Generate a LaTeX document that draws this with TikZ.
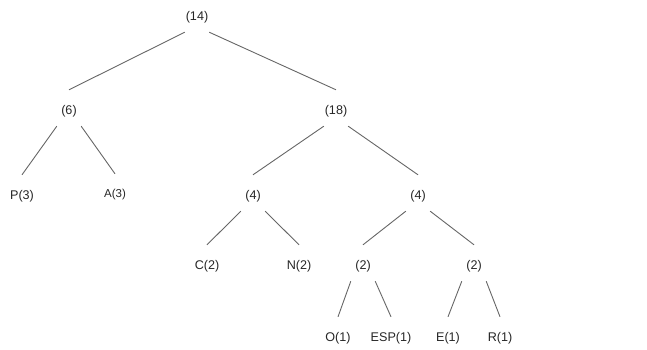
\documentclass[tikz,border=0pt]{standalone}
\usepackage{fontspec}
\setmainfont{Liberation Sans}
\usepackage{xcolor}
\usetikzlibrary{arrows.meta,positioning}

\begin{document}
\begin{tikzpicture}[
  x=1pt, y=-1pt,
  wt/.style={minimum width=24pt, minimum height=30pt, inner xsep=0pt, inner ysep=0pt,
             text=black!85, font=\fontsize{12.6}{14}\selectfont},
  small/.style={wt, font=\fontsize{11.5}{13}\selectfont},
  edge/.style={draw=black!60, line width=0.9pt}
]
\useasboundingbox (0,0) rectangle (647,350);

\node[wt] (n14) at (197,17) {(14)};
\node[wt] (n6)  at (69,111) {(6)};
\node[wt] (n18) at (336,111) {(18)};
\node[wt] (p3)  at (22,196) {P(3)};
\node[small] (a3) at (115,195) {A(3)};
\node[wt] (n4a) at (253,196) {(4)};
\node[wt] (n4b) at (418,196) {(4)};
\node[wt] (c2)  at (207,266) {C(2)};
\node[wt] (nn2) at (299,266) {N(2)};
\node[wt] (n2a) at (363,266) {(2)};
\node[wt] (n2b) at (474,266) {(2)};
\node[wt] (o1)  at (338,338) {O(1)};
\node[wt] (esp1) at (391,338) {ESP(1)};
\node[wt] (e1)  at (448,338) {E(1)};
\node[wt] (r1)  at (500,338) {R(1)};

\draw[edge] (n14.south west) -- ([yshift=6pt]n6.north);
\draw[edge] (n14.south east) -- ([yshift=6pt]n18.north);
\draw[edge] (n6.south west) -- ([yshift=6pt]p3.north);
\draw[edge] (n6.south east) -- ([yshift=6pt]a3.north);
\draw[edge] (n18.south west) -- ([yshift=6pt]n4a.north);
\draw[edge] (n18.south east) -- ([yshift=6pt]n4b.north);
\draw[edge] (n4a.south west) -- ([yshift=6pt]c2.north);
\draw[edge] (n4a.south east) -- ([yshift=6pt]nn2.north);
\draw[edge] (n4b.south west) -- ([yshift=6pt]n2a.north);
\draw[edge] (n4b.south east) -- ([yshift=6pt]n2b.north);
\draw[edge] (n2a.south west) -- ([yshift=6pt]o1.north);
\draw[edge] (n2a.south east) -- ([yshift=6pt]esp1.north);
\draw[edge] (n2b.south west) -- ([yshift=6pt]e1.north);
\draw[edge] (n2b.south east) -- ([yshift=6pt]r1.north);
\end{tikzpicture}
\end{document}
